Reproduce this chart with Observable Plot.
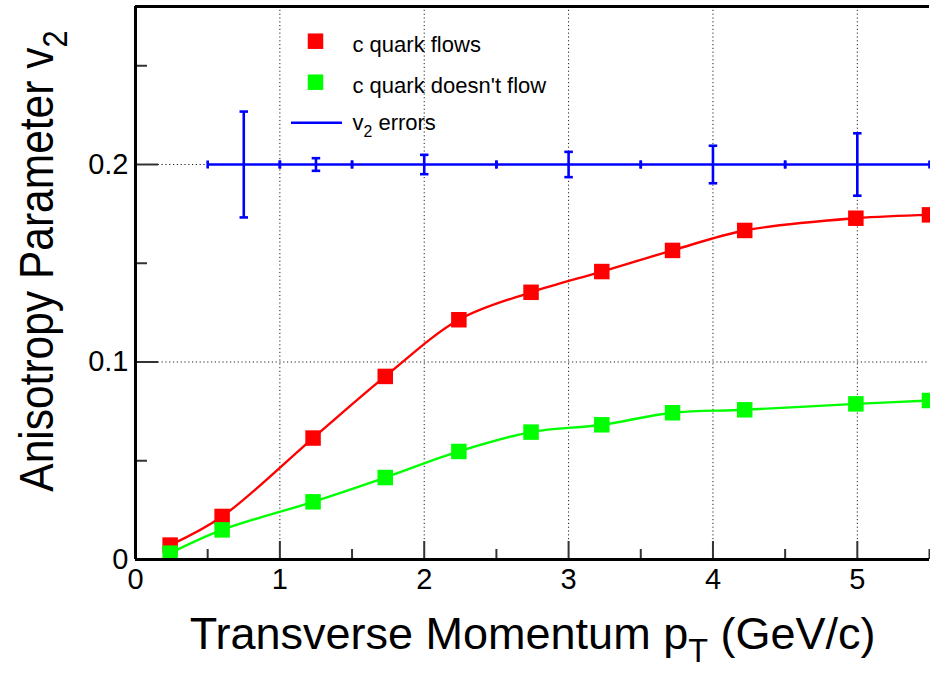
<!DOCTYPE html>
<html>
<head>
<meta charset="utf-8">
<script src="https://cdn.jsdelivr.net/npm/d3@7"></script>
<script src="https://cdn.jsdelivr.net/npm/@observablehq/plot@0.6"></script>
<style>
  html, body { margin: 0; padding: 0; background: #fff; }
  #chart svg { display: block; }
</style>
</head>
<body>
<div id="chart"></div>
<script>
// ---------------- data ----------------
const pt = [0.24, 0.60, 1.23, 1.73, 2.24, 2.74, 3.23, 3.72, 4.22, 4.99, 5.50];
const v2Flow = [0.0073, 0.0218, 0.0615, 0.0927, 0.1214, 0.1353, 0.1458, 0.1565, 0.1666, 0.1728, 0.1745];
const v2NoFlow = [0.0032, 0.0150, 0.0292, 0.0415, 0.0547, 0.0645, 0.0682, 0.0743, 0.0758, 0.0788, 0.0805];

const errCenter = [0.75, 1.25, 2, 3, 4, 5];
const errLow = [0.5, 1.0, 1.5, 2.5, 3.5, 4.5];
const errHigh = [1.0, 1.5, 2.5, 3.5, 4.5, 5.5];
const errValue = [0.2, 0.2, 0.2, 0.2, 0.2, 0.2];
const errSize = [0.0268, 0.0032, 0.0049, 0.0064, 0.0095, 0.0158];

const xTicks = [0, 1, 2, 3, 4, 5];
const xMinorTicks = [0.5, 1.5, 2.5, 3.5, 4.5, 5.5];
const yTicks = [0, 0.1, 0.2];
const yMinorTicks = [0.05, 0.15, 0.25];
const xGrid = [1, 2, 3, 4, 5];
const yGrid = [0.1, 0.2];
const xDomain = [0, 5.5];
const yDomain = [0, 0.28];

const seriesNames = ["c quark flows", "c quark doesn't flow", "v_{2} errors"];
const xTitle = "Transverse Momentum p_{T} (GeV/c)";
const yTitle = "Anisotropy Parameter v_{2}";

// ---------------- tables ----------------
const flowData = pt.map((x, i) => ({x, y: v2Flow[i]}));
const noFlowData = pt.map((x, i) => ({x, y: v2NoFlow[i]}));
const errData = errCenter.map((c, i) => ({c, lo: errLow[i], hi: errHigh[i], v: errValue[i], e: errSize[i]}));

// ---------------- layout ----------------
const W = 930, H = 673;
const mL = 135, mR = 1, mT = 6, mB = 114;
const fW = W - mL - mR, fH = H - mT - mB;

const RED = "#ff0000", GREEN = "#00ff00", BLUE = "#0000ff";
const FONT = "'Liberation Sans', Arial, Helvetica, sans-serif";

const hBar = {draw(ctx, size) { const w = Math.sqrt(size) / 2; ctx.moveTo(-w, 0); ctx.lineTo(w, 0); }};
const vBar = {draw(ctx, size) { const h = Math.sqrt(size) / 2; ctx.moveTo(0, -h); ctx.lineTo(0, h); }};
const rFor = px => px / Math.sqrt(Math.PI);

const gridStyle = {stroke: "#222", strokeWidth: 1, strokeDasharray: "1.2,2.6"};
const tickStyle = {stroke: "#333", strokeWidth: 2};
const markerR = rFor(15.5);

const chart = Plot.plot({
  width: W, height: H,
  marginLeft: mL, marginRight: mR, marginTop: mT, marginBottom: mB,
  x: {domain: xDomain},
  y: {domain: yDomain},
  style: {fontFamily: FONT, background: "#fff", color: "#000", overflow: "visible"},
  marks: [
    // grid
    Plot.ruleX(xGrid, {x: d => d, ...gridStyle}),
    Plot.ruleY(yGrid, {y: d => d, ...gridStyle}),

    // v2 error histogram
    Plot.link(errData, {x1: "lo", x2: "hi", y1: "v", y2: "v", stroke: BLUE, strokeWidth: 2.6}),
    Plot.link(errData, {x1: "c", x2: "c", y1: d => d.v - d.e, y2: d => d.v + d.e, stroke: BLUE, strokeWidth: 2.6}),
    Plot.dot(errData, {x: "c", y: d => d.v + d.e, symbol: hBar, r: rFor(8.5), stroke: BLUE, strokeWidth: 2.6, fill: "none"}),
    Plot.dot(errData, {x: "c", y: d => d.v - d.e, symbol: hBar, r: rFor(8.5), stroke: BLUE, strokeWidth: 2.6, fill: "none"}),
    Plot.dot(errData, {x: "lo", y: "v", symbol: vBar, r: rFor(8), stroke: BLUE, strokeWidth: 2.6, fill: "none"}),
    Plot.dot(errData, {x: "hi", y: "v", symbol: vBar, r: rFor(8), stroke: BLUE, strokeWidth: 2.6, fill: "none"}),

    // c quark flows
    Plot.line(flowData, {x: "x", y: "y", stroke: RED, strokeWidth: 2.4, curve: "catmull-rom"}),
    Plot.dot(flowData, {x: "x", y: "y", symbol: "square", r: markerR, fill: RED, stroke: "none"}),
    // c quark doesn't flow
    Plot.line(noFlowData, {x: "x", y: "y", stroke: GREEN, strokeWidth: 2.4, curve: "catmull-rom"}),
    Plot.dot(noFlowData, {x: "x", y: "y", symbol: "square", r: markerR, fill: GREEN, stroke: "none"}),

    // ticks (inside)
    Plot.ruleX(xTicks, {x: d => d, insetTop: fH - 18, ...tickStyle}),
    Plot.ruleX(xMinorTicks, {x: d => d, insetTop: fH - 10, ...tickStyle}),
    Plot.ruleY(yTicks, {y: d => d, insetRight: fW - 23, ...tickStyle}),
    Plot.ruleY(yMinorTicks, {y: d => d, insetRight: fW - 12, ...tickStyle}),

    // frame lines
    Plot.ruleX([xDomain[0]], {x: d => d, stroke: "#000", strokeWidth: 3}),
    Plot.ruleY([yDomain[0], yDomain[1]], {y: d => d, stroke: "#000", strokeWidth: 3}),

    // tick labels
    Plot.axisX(xTicks, {tickSize: 0, tickPadding: 9, fontSize: 29, label: null, tickFormat: d => String(d)}),
    Plot.axisY(yTicks, {tickSize: 0, tickPadding: 7, fontSize: 29, label: null, tickFormat: d => d === 0 ? "0" : d.toFixed(1)}),

    // axis titles
    Plot.text([xTitle], {text: d => d, frameAnchor: "bottom-right", textAnchor: "end", dx: -54, dy: 89, fontSize: 45, fill: "#000"}),
    Plot.text([yTitle], {text: d => d, frameAnchor: "top-left", textAnchor: "end", rotate: -90, dx: -117, dy: 24, fontSize: 48, fill: "#000"}),

    // legend
    Plot.dot([seriesNames[0]], {frameAnchor: "top-left", dx: 180, dy: 34.7, symbol: "square", r: markerR, fill: RED, stroke: "none"}),
    Plot.text([seriesNames[0]], {text: d => d, frameAnchor: "top-left", dx: 217, dy: 30, textAnchor: "start", fontSize: 22, fill: "#000"}),
    Plot.dot([seriesNames[1]], {frameAnchor: "top-left", dx: 180, dy: 75.7, symbol: "square", r: markerR, fill: GREEN, stroke: "none"}),
    Plot.text([seriesNames[1]], {text: d => d, frameAnchor: "top-left", dx: 217, dy: 71, textAnchor: "start", fontSize: 22, fill: "#000"}),
    Plot.dot([seriesNames[2]], {frameAnchor: "top-left", dx: 181, dy: 116.3, symbol: hBar, r: rFor(51), stroke: BLUE, strokeWidth: 2.4, fill: "none"}),
    Plot.text([seriesNames[2]], {text: d => d, frameAnchor: "top-left", dx: 217, dy: 108, textAnchor: "start", fontSize: 22, fill: "#000"})
  ]
});

document.getElementById("chart").appendChild(chart);

// turn "_{x}" markup into subscript tspans
chart.querySelectorAll("text").forEach(t => {
  const s = t.textContent;
  if (!s.includes("_{")) return;
  const fs = parseFloat(getComputedStyle(t).fontSize) || 20;
  const shift = 0.3 * fs;
  const parts = s.split(/_\{([^}]*)\}/);
  while (t.firstChild) t.removeChild(t.firstChild);
  const NS = "http://www.w3.org/2000/svg";
  parts.forEach((p, i) => {
    if (p === "") return;
    const ts = document.createElementNS(NS, "tspan");
    ts.textContent = p;
    if (i % 2 === 1) {
      ts.setAttribute("dy", shift);
      ts.setAttribute("font-size", (0.72 * fs).toFixed(1));
    } else if (i > 0) {
      ts.setAttribute("dy", -shift);
    }
    t.appendChild(ts);
  });
  // the y title is set in a narrower face in the reference: condense along its reading direction
  if (s === yTitle) {
    const tr = t.getAttribute("transform") || "";
    t.setAttribute("transform", tr + " scale(0.886,1)");
  }
});
</script>
</body>
</html>
